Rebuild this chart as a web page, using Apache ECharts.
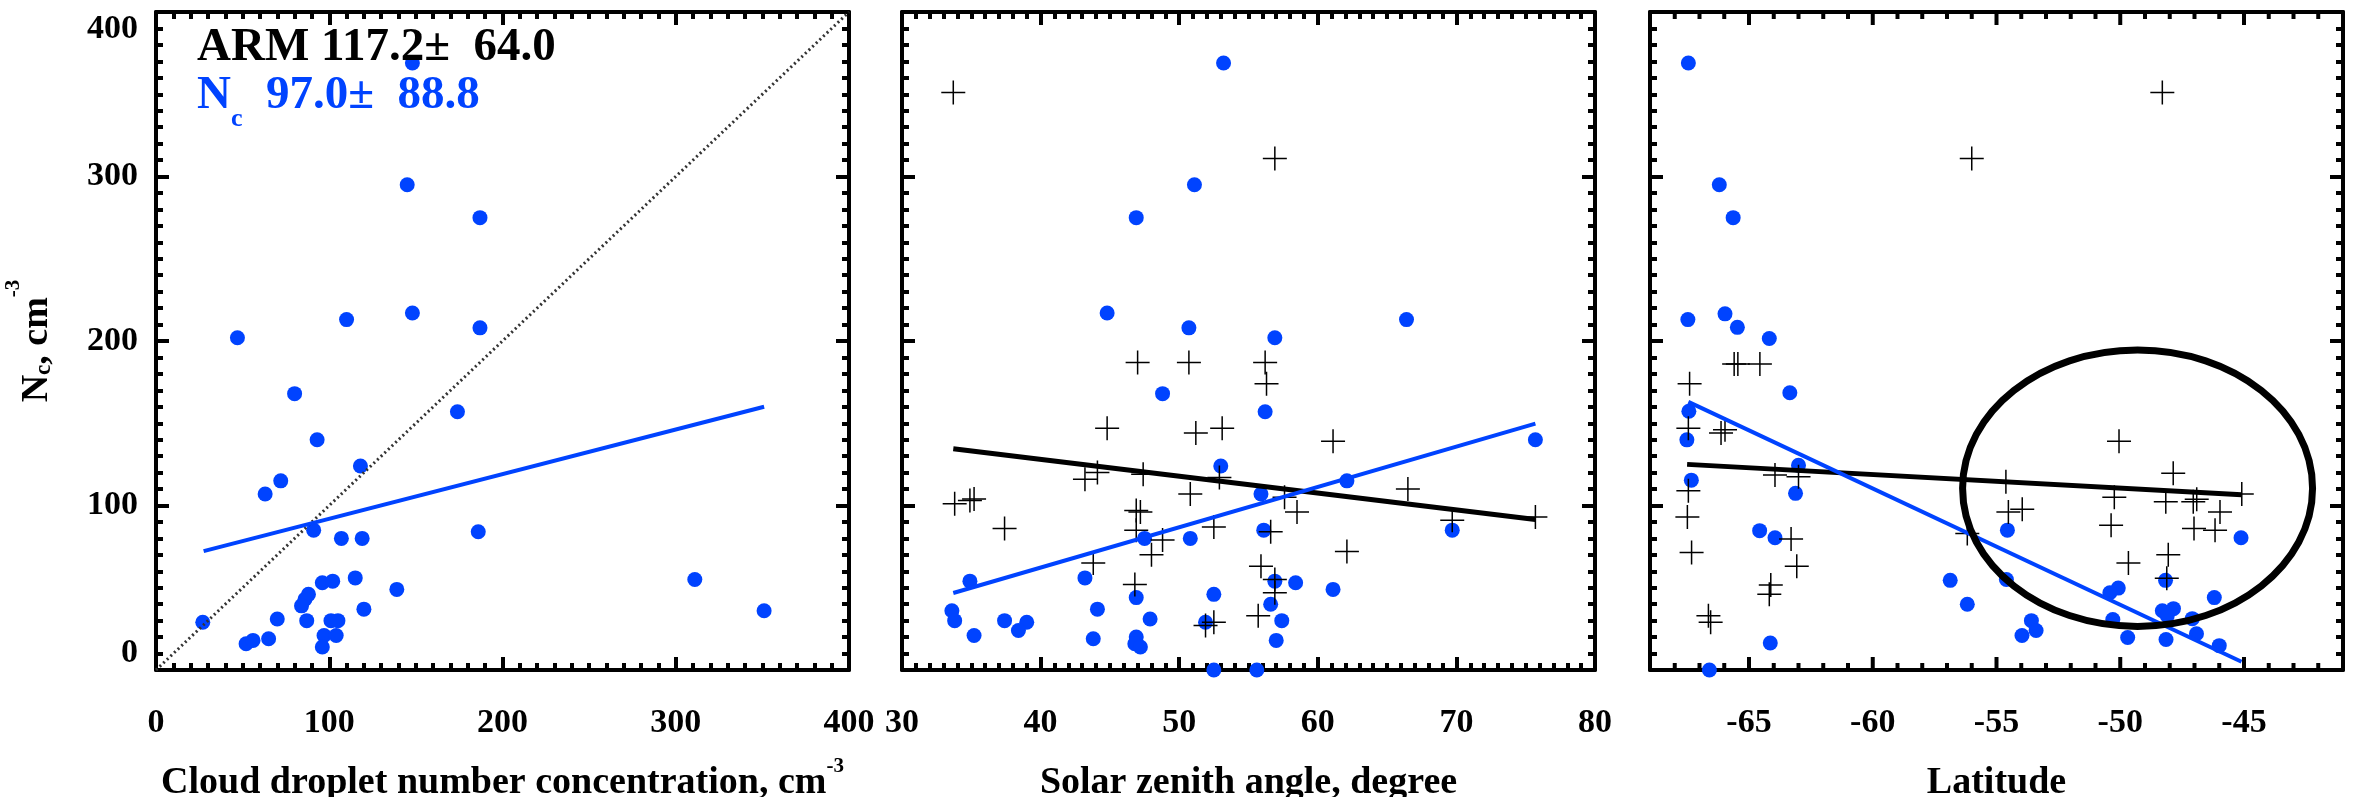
<!DOCTYPE html>
<html><head><meta charset="utf-8">
<script src="https://cdn.jsdelivr.net/npm/echarts@6/dist/echarts.min.js"></script>
<style>html,body{margin:0;padding:0;background:#fff}#c{width:2357px;height:797px}</style>
</head><body><div id="c"></div>
<script>
// ---------------- data ----------------
const BLUE = '#0043ff';
const p1Dots = [[148,369],[145,295],[187,275],[47,202],[110,213],[148,217],[187,208],[80,168],[174,157],[93,140],[118,124],[72,115],[63,107],[91,85],[107,80],[119,80],[186,84],[311,55],[351,36],[27,29],[96,53],[102,54],[115,56],[139,49],[88,46],[86,43],[84,39],[70,31],[87,30],[101,30],[105,30],[120,37],[52,16],[56,18],[65,19],[97,21],[104,21],[96,14]];
const p1Fit = [[27.5,72.3],[351,160]];
const p1OneToOne = [[0,0],[400,400]];
const p2Dots = [[53.2,369],[51.1,295],[46.9,275],[44.8,217],[50.7,208],[56.9,202],[66.4,213],[48.8,168],[56.2,157],[75.7,140],[53.0,124],[62.1,115],[55.9,107],[56.1,85],[69.7,85],[47.5,80],[50.8,80],[34.9,54],[43.2,56],[56.9,54],[58.4,53],[61.1,49],[46.9,44],[52.5,46],[56.6,40],[33.6,36],[33.8,30],[37.4,30],[39.0,29],[38.4,24],[44.1,37],[47.9,31],[51.9,29],[57.4,30],[35.2,21],[43.8,19],[46.9,20],[46.8,16],[47.2,14],[57.0,18],[52.5,0],[55.6,0]];
const p2Crosses = [[33.7,351],[56.9,311],[47.0,187],[50.7,187],[56.2,187],[56.3,174],[44.8,147],[51.2,144],[53.1,147],[61.1,139],[66.5,110],[43.2,116],[44.1,120],[47.4,119],[52.9,117],[50.8,107],[57.6,105],[33.8,101],[34.9,103],[35.2,104],[37.4,86],[46.9,97],[47.2,96],[58.5,96],[46.9,85],[52.5,87],[56.6,84],[48.8,79],[48.0,70],[62.1,72],[43.8,65],[55.9,63],[56.9,55],[46.8,52],[56.9,47],[55.7,33],[52.5,29],[51.9,27],[69.7,91],[75.7,93]];
const p2FitNc = [[33.7,46.8],[75.7,149.8]];
const p2FitArm = [[33.7,134.5],[75.7,91.5]];
const p3Dots = [[-67.45,369],[-66.2,295],[-65.64,275],[-67.47,213],[-65.97,216.5],[-65.47,208.3],[-64.18,201.5],[-63.35,168.5],[-67.43,157.3],[-67.51,139.9],[-63.0,124.5],[-67.33,115.4],[-63.12,107.4],[-64.57,84.7],[-63.95,80.4],[-54.56,85],[-45.12,80.4],[-56.87,54.5],[-56.18,40],[-54.6,55],[-48.17,54.5],[-50.08,49.8],[-50.42,47],[-46.2,44],[-53.59,30],[-53.4,24],[-53.97,21],[-50.3,30.7],[-48.3,36],[-47.85,37.3],[-48.1,33],[-47.09,31.2],[-46.92,22],[-49.7,19.8],[-48.15,18.5],[-46.0,14.8],[-64.14,16.4],[-66.6,0]];
const p3Crosses = [[-48.3,351],[-56.0,311],[-67.4,174],[-65.6,186],[-65.45,186],[-64.56,186],[-67.45,147],[-66.13,144],[-65.97,146],[-63.95,118.5],[-63.0,117.5],[-67.45,109],[-67.49,93],[-67.32,71.5],[-63.3,79.6],[-63.07,63],[-64.12,51.7],[-64.18,46],[-66.64,33],[-66.55,29],[-56.18,83],[-54.62,114.5],[-54.52,96],[-53.96,97.7],[-50.05,139],[-47.86,119.6],[-50.24,105],[-50.37,88],[-48.16,102.3],[-47.05,102.3],[-46.91,103.8],[-45.97,96],[-45.09,107],[-47.02,86],[-46.17,85],[-49.67,65],[-48.06,70],[-48.12,55.7]];
const p3FitNc = [[-67.45,163],[-45.1,5]];
const p3FitArm = [[-67.5,125],[-45.1,106.5]];
const p3Ellipse = [[-49.3,110.5,7.07,84]];
const xRanges = [[0,400,100],[30,80,10],[-69,-41,1]];
const latTicks = [-65,-60,-55,-50,-45];
const latMinorTicks = [-69,-68,-67,-66,-64,-63,-62,-61,-59,-58,-57,-56,-54,-53,-52,-51,-49,-48,-47,-46,-44,-43,-42];
const yRange = [0,400,100];
const xTitles = ['{t|Cloud droplet number concentration, cm}{p|-3}','{t|Solar zenith angle, degree}','{t|Latitude}'];
const yTitle = '{t|N}{b|c}{t|, cm}{p|-3}';
const statArm = 'ARM 117.2±  64.0';
const statNc = ['N','c','  97.0±  88.8'];

// ---------------- chart ----------------
const FF = '"Liberation Serif","Times New Roman",serif';
const chart = echarts.init(document.getElementById('c'), null, {renderer:'canvas'});
const GL = [156, 902, 1650];
const grids = GL.map(l => ({left:l, top:12, width:693, height:658, outerBoundsMode:'none', containLabel:false}));
const TC = '#000';
const MAJ = 13, MIN = 7, TW = 4;
const mkLine = () => ({show:true, onZero:false, lineStyle:{color:'#000', width:4}});
const mkTick = (len) => ({show:true, inside:true, length:len, lineStyle:{color:TC, width:TW}});
const mkMinor = () => ({show:true, splitNumber:10, length:MIN, lineStyle:{color:TC, width:TW}});
const LBL = () => ({fontFamily:FF, fontWeight:'bold', fontSize:34, color:'#000'});
const richT = {
  t:{fontFamily:FF, fontWeight:'bold', fontSize:38, color:'#000', verticalAlign:'bottom', lineHeight:46},
  p:{fontFamily:FF, fontWeight:'bold', fontSize:21, color:'#000', verticalAlign:'top', lineHeight:46},
  b:{fontFamily:FF, fontWeight:'bold', fontSize:23, color:'#000', verticalAlign:'bottom', lineHeight:53}
};
const xAxes = [], yAxes = [];
xRanges.forEach((r, i) => {
  const base = () => ({type:'value', gridIndex:i, min:r[0], max:r[1], interval:r[2], splitLine:{show:false}, axisLine:mkLine()});
  const isLat = i === 2;
  xAxes.push(Object.assign(base(), {position:'bottom',
    axisTick:isLat ? {show:false} : mkTick(MAJ), minorTick:isLat ? {show:false} : mkMinor(),
    axisLabel:Object.assign({show:true, margin:36,
      formatter: isLat ? (v => (latTicks.indexOf(v) >= 0 ? String(v) : '')) : null}, LBL()),
    name:xTitles[i], nameLocation:'middle', nameGap:86, nameTextStyle:{rich:richT}}));
  xAxes.push(Object.assign(base(), {position:'top',
    axisTick:isLat ? {show:false} : mkTick(MAJ), minorTick:isLat ? {show:false} : mkMinor(), axisLabel:{show:false}}));
  const yb = () => ({type:'value', gridIndex:i, min:yRange[0], max:yRange[1], interval:yRange[2], splitLine:{show:false}, axisLine:mkLine(), axisTick:mkTick(MAJ), minorTick:mkMinor()});
  yAxes.push(Object.assign(yb(), {position:'left',
    axisLabel:Object.assign({show:i===0, margin:18, verticalAlignMaxLabel:'top', verticalAlignMinLabel:'bottom'}, LBL()),
    name: i===0 ? yTitle : '', nameLocation:'middle', nameGap:100, nameTextStyle:{rich:richT}}));
  yAxes.push(Object.assign(yb(), {position:'right', axisLabel:{show:false}}));
});
const xi = [0, 2, 4], yi = [0, 2, 4];
const CROSS = 'path://M0,12H24M12,0V24';
function dots(i, data){ return {type:'scatter', xAxisIndex:xi[i], yAxisIndex:yi[i], data, symbol:'circle', symbolSize:15, itemStyle:{color:BLUE, opacity:1}, clip:true, z:3}; }
function crosses(i, data){ return {type:'scatter', xAxisIndex:xi[i], yAxisIndex:yi[i], data, symbol:CROSS, symbolSize:24, itemStyle:{color:'rgba(0,0,0,0)', borderColor:'#000', borderWidth:1.5, opacity:1}, clip:true, z:4}; }
function fit(i, data, color, width, type){ return {type:'line', xAxisIndex:xi[i], yAxisIndex:yi[i], data, symbol:'none', lineStyle:{color, width, type:type||'solid'}, z:5, silent:true}; }
// latitude axis tick marks (bottom and top edge of panel 3), positioned by the axis scale
function latTickSeries(values, len){
  return {type:'custom', xAxisIndex:xi[2], yAxisIndex:yi[2], data:values.map(v => [v, yRange[0]]), encode:{x:0, y:1}, z:7, silent:true, clip:false,
   renderItem:(params, api) => {
     const pb = api.coord([api.value(0), yRange[0]]);
     const pt = api.coord([api.value(0), yRange[1]]);
     return {type:'group', children:[
       {type:'line', shape:{x1:pb[0], y1:pb[1], x2:pb[0], y2:pb[1] - len}, style:{stroke:TC, lineWidth:TW}},
       {type:'line', shape:{x1:pt[0], y1:pt[1], x2:pt[0], y2:pt[1] + len}, style:{stroke:TC, lineWidth:TW}}
     ]};
   }};
}
const series = [
  fit(0, p1OneToOne, '#333', 3, [2,3]),
  dots(0, p1Dots),
  fit(0, p1Fit, BLUE, 4),
  dots(1, p2Dots), crosses(1, p2Crosses),
  fit(1, p2FitArm, '#000', 5), fit(1, p2FitNc, BLUE, 4),
  dots(2, p3Dots), crosses(2, p3Crosses),
  fit(2, p3FitArm, '#000', 5), fit(2, p3FitNc, BLUE, 4),
  {type:'custom', xAxisIndex:xi[2], yAxisIndex:yi[2], data:p3Ellipse, encode:{x:0, y:1}, z:6, silent:true, clip:false,
   renderItem:(params, api) => {
     const c = api.coord([api.value(0), api.value(1)]);
     const s = api.size([api.value(2), api.value(3)]);
     return {type:'ellipse', shape:{cx:c[0], cy:c[1], rx:s[0], ry:s[1]}, style:{fill:'none', stroke:'#000', lineWidth:7}};
   }},
  latTickSeries(latTicks, MAJ),
  latTickSeries(latMinorTicks, MIN)
];
const title = [
  {left:197, top:24, padding:0, text:statArm, textStyle:{fontFamily:FF, fontWeight:'bold', fontSize:47, color:'#000'}},
  {left:197, top:72, padding:0, text:'{n|'+statNc[0]+'}{s|'+statNc[1]+'}{n|'+statNc[2]+'}',
   textStyle:{rich:{
     n:{fontFamily:FF, fontWeight:'bold', fontSize:47, color:BLUE, verticalAlign:'top', lineHeight:47},
     s:{fontFamily:FF, fontWeight:'bold', fontSize:26, color:BLUE, verticalAlign:'bottom', lineHeight:60}
   }}}
];
chart.setOption({animation:false, backgroundColor:'#fff', grid:grids, xAxis:xAxes, yAxis:yAxes, series, title});
</script></body></html>
